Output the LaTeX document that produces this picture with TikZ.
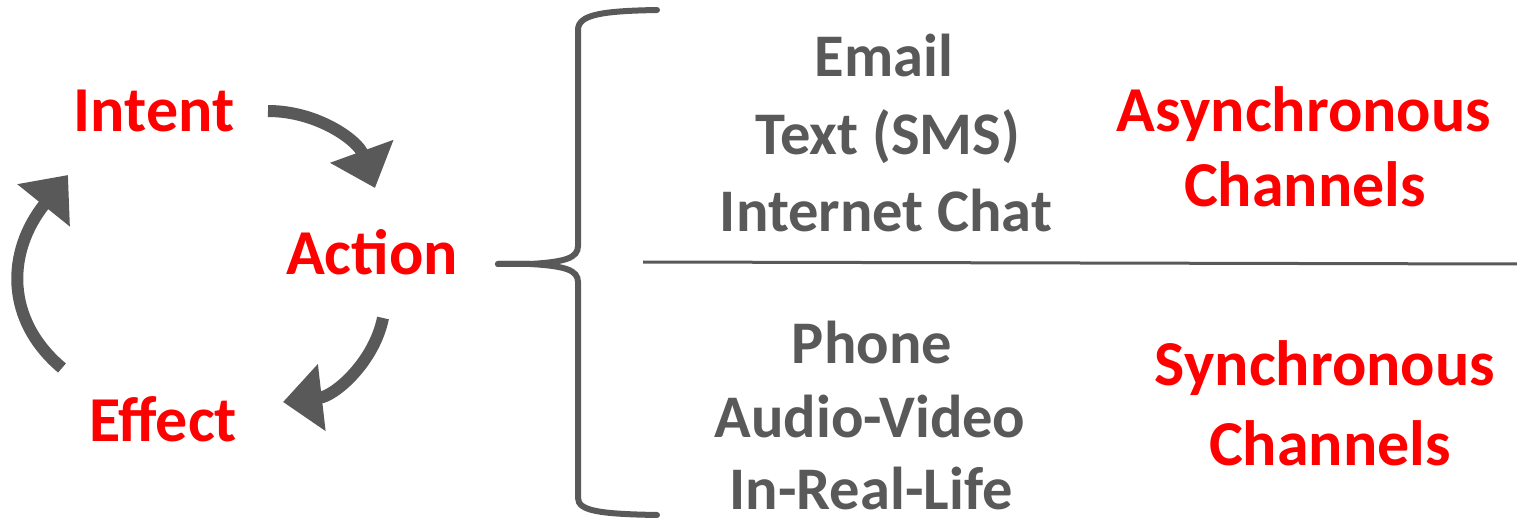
\documentclass[tikz,border=0pt]{standalone}
\usepackage{fontspec}
\setmainfont{Carlito}
\usetikzlibrary{arrows.meta}
\definecolor{dgray}{HTML}{595959}
\definecolor{bred}{HTML}{FF0000}
\tikzset{
  redtxt/.style={anchor=base, inner sep=0pt, text=bred, font=\fontsize{64}{76}\selectfont\bfseries},
  graytxt/.style={anchor=base, inner sep=0pt, text depth=0pt, text=dgray, font=\fontsize{60.5}{72}\selectfont\bfseries},
  cyclearrow/.style={draw=dgray, line width=12pt, -{Triangle[length=39pt,width=65pt]}, dgray},
  bracestyle/.style={draw=dgray, line width=6pt, line cap=round},
  divider/.style={draw=dgray, line width=3pt}
}
\begin{document}
\begin{tikzpicture}[x=1pt,y=-1pt]
\useasboundingbox (0,0) rectangle (1517,521);
% cycle labels
\node[redtxt] (intent) at (154,132) {Intent};
\node[redtxt] (action) at (372,274) {Action};
\node[redtxt] (effect) at (163,441) {Effect};
% cycle arrows
\coordinate (a1s) at (268,111);
\coordinate (a1e) at (375,188);
\coordinate (a2s) at (383,318);
\coordinate (a2e) at (283,402);
\coordinate (a3s) at (62,368);
\coordinate (a3e) at (68,175);
\draw[cyclearrow] (a1s) .. controls (318,111) and (358,141) .. (a1e);
\draw[cyclearrow] (a2s) .. controls (374,362) and (335,396) .. (a2e);
\draw[cyclearrow] (a3s) .. controls (5,320) and (6,252) .. (a3e);
% brace
\coordinate (btop) at (657,10);
\coordinate (btip) at (498,264);
\coordinate (bbot) at (657,515);
\draw[bracestyle] (btop) .. controls (600,11) and (578,15) .. (578,30)
  -- (578,246) .. controls (578,258) and (565,262) .. (530,264) -- (btip);
\draw[bracestyle] (btip) -- (530,264) .. controls (565,266) and (578,270) .. (578,282)
  -- (578,498) .. controls (578,511) and (600,514) .. (bbot);
% divider
\coordinate (dl) at (643,262);
\coordinate (dr) at (1517,264);
\draw[divider] (dl) -- (dr);
% channel lists
\node[graytxt] (email) at (884,77) {Email};
\node[graytxt] (sms) at (888,155) {Text (SMS)};
\node[graytxt] (chat) at (886,232) {Internet Chat};
\node[graytxt] (phone) at (872,363) {Phone};
\node[graytxt] (av) at (870,437) {Audio-Video};
\node[graytxt] (irl) at (871,509) {In-Real-Life};
% channel types
\node[redtxt] (async1) at (1304,132) {Asynchronous};
\node[redtxt] (async2) at (1305,207) {Channels};
\node[redtxt] (sync1) at (1325,385) {Synchronous};
\node[redtxt] (sync2) at (1330,465) {Channels};
\end{tikzpicture}
\end{document}
